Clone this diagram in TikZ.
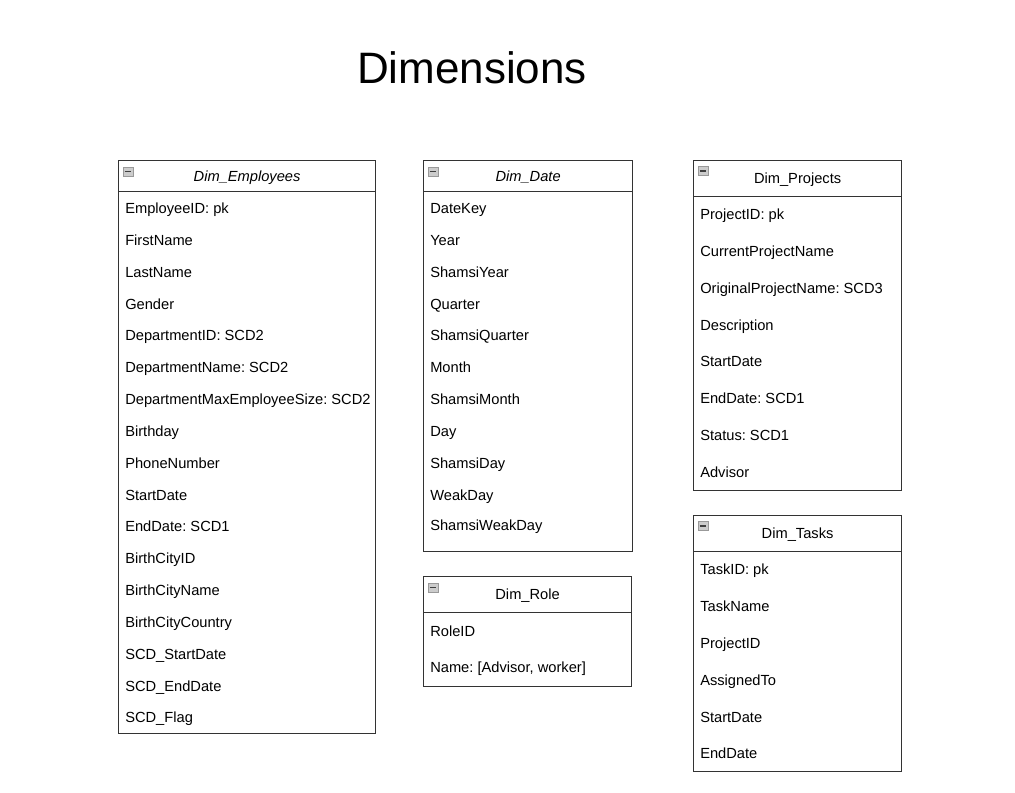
\documentclass[tikz,border=0pt]{standalone}
\usepackage{fontspec}
\setmainfont{Liberation Sans}
\usetikzlibrary{positioning}
\frenchspacing

\tikzset{
  hdr/.style={rectangle, draw=black!80, line width=0.9pt, anchor=north west, inner sep=0pt, text height=9pt, text depth=1pt, font=\fontsize{11}{13}\selectfont},
  tblbody/.style={rectangle, draw=black!80, line width=0.9pt, anchor=north west, inner sep=0pt},
  field/.style={anchor=base west, inner sep=0pt, font=\fontsize{11}{13}\selectfont},
  icon/.style={rectangle, draw=gray!80, fill=gray!40, line width=0.5pt, inner sep=0pt, minimum width=7.5pt, minimum height=6.75pt,
    path picture={\draw[black!75, line width=1.2pt] ([xshift=1.3pt]path picture bounding box.west) -- ([xshift=-1.3pt]path picture bounding box.east);}}
}

\begin{document}
\begin{tikzpicture}[x=0.75pt, y=-0.75pt]
\useasboundingbox (0,0) rectangle (1015,793);

\node[font=\fontsize{33}{40}\selectfont] (title) at (472,68) {Dimensions};

% Dim_Employees
\node[hdr, minimum width=192.75pt, minimum height=23.25pt] (emp) at (118,160) {\textit{Dim\_Employees}};
\node[tblbody, minimum width=192.75pt, minimum height=406.5pt] (emp-b) at (118,191) {};
\node[icon] (emp-i) at (128,171.5) {};
\node[field] (emp1) at (125,213) {EmployeeID: pk};
\node[field] (emp2) at (125,245) {FirstName};
\node[field] (emp3) at (125,277) {LastName};
\node[field] (emp4) at (125,309) {Gender};
\node[field] (emp5) at (125,340) {DepartmentID: SCD2};
\node[field] (emp6) at (125,372) {DepartmentName: SCD2};
\node[field] (emp7) at (125,404) {DepartmentMaxEmployeeSize: SCD2};
\node[field] (emp8) at (125,436) {Birthday};
\node[field] (emp9) at (125,468) {PhoneNumber};
\node[field] (emp10) at (125,500) {StartDate};
\node[field] (emp11) at (125,531) {EndDate: SCD1};
\node[field] (emp12) at (125,563) {BirthCityID};
\node[field] (emp13) at (125,595) {BirthCityName};
\node[field] (emp14) at (125,627) {BirthCityCountry};
\node[field] (emp15) at (125,659) {SCD\_StartDate};
\node[field] (emp16) at (125,691) {SCD\_EndDate};
\node[field] (emp17) at (125,722) {SCD\_Flag};

% Dim_Date
\node[hdr, minimum width=156.75pt, minimum height=23.25pt] (date) at (423,160) {\textit{Dim\_Date}};
\node[tblbody, minimum width=156.75pt, minimum height=270pt] (date-b) at (423,191) {};
\node[icon] (date-i) at (433,171.5) {};
\node[field] (date1) at (430,213) {DateKey};
\node[field] (date2) at (430,245) {Year};
\node[field] (date3) at (430,277) {ShamsiYear};
\node[field] (date4) at (430,309) {Quarter};
\node[field] (date5) at (430,340) {ShamsiQuarter};
\node[field] (date6) at (430,372) {Month};
\node[field] (date7) at (430,404) {ShamsiMonth};
\node[field] (date8) at (430,436) {Day};
\node[field] (date9) at (430,468) {ShamsiDay};
\node[field] (date10) at (430,500) {WeakDay};
\node[field] (date11) at (430,530) {ShamsiWeakDay};

% Dim_Role
\node[hdr, minimum width=156pt, minimum height=27pt] (role) at (423,576) {Dim\_Role};
\node[tblbody, minimum width=156pt, minimum height=55.5pt] (role-b) at (423,612) {};
\node[icon] (role-i) at (433,587.5) {};
\node[field] (role1) at (430,636) {RoleID};
\node[field] (role2) at (430,672) {Name: [Advisor, worker]};

% Dim_Projects
\node[hdr, minimum width=156pt, minimum height=27pt] (proj) at (693,160) {Dim\_Projects};
\node[tblbody, minimum width=156pt, minimum height=220.5pt] (proj-b) at (693,196) {};
\node[icon] (proj-i) at (703,171) {};
\node[field] (proj1) at (700,219) {ProjectID: pk};
\node[field] (proj2) at (700,256) {CurrentProjectName};
\node[field] (proj3) at (700,293) {OriginalProjectName: SCD3};
\node[field] (proj4) at (700,330) {Description};
\node[field] (proj5) at (700,366) {StartDate};
\node[field] (proj6) at (700,403) {EndDate: SCD1};
\node[field] (proj7) at (700,440) {Status: SCD1};
\node[field] (proj8) at (700,477) {Advisor};

% Dim_Tasks
\node[hdr, minimum width=156pt, minimum height=27pt] (task) at (693,515) {Dim\_Tasks};
\node[tblbody, minimum width=156pt, minimum height=165pt] (task-b) at (693,551) {};
\node[icon] (task-i) at (703,526) {};
\node[field] (task1) at (700,574) {TaskID: pk};
\node[field] (task2) at (700,611) {TaskName};
\node[field] (task3) at (700,648) {ProjectID};
\node[field] (task4) at (700,685) {AssignedTo};
\node[field] (task5) at (700,722) {StartDate};
\node[field] (task6) at (700,758) {EndDate};

\end{tikzpicture}
\end{document}
